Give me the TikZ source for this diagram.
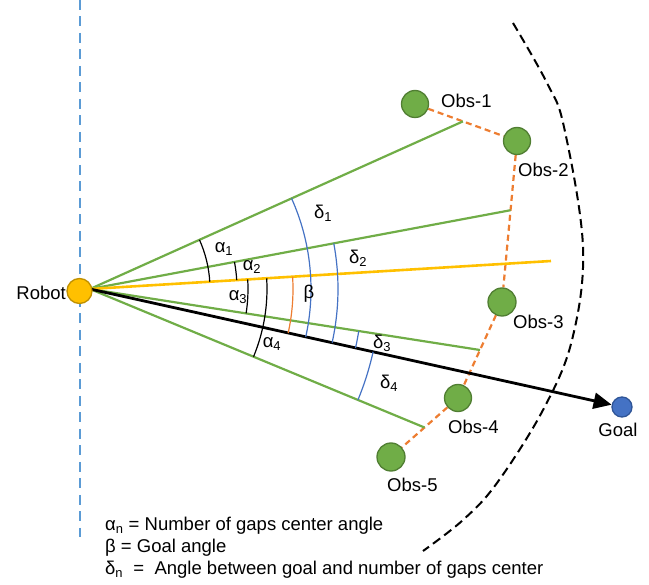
\documentclass[tikz,border=0pt]{standalone}
\usepackage{fontspec}
\setmainfont{Liberation Sans}
\usetikzlibrary{calc,arrows.meta,backgrounds}
\definecolor{cgreen}{HTML}{70AD47}
\definecolor{cgreendark}{HTML}{507E32}
\definecolor{cyellow}{HTML}{FFC000}
\definecolor{cyellowdark}{HTML}{BF9000}
\definecolor{corange}{HTML}{ED7D31}
\definecolor{cblue}{HTML}{4472C4}
\definecolor{cbluedark}{HTML}{2F5597}
\definecolor{clightblue}{HTML}{5B9BD5}
% arc between the rays (O)->#2 and (O)->#3, radius #4 (pt), style #1
\newcommand{\angarc}[4]{%
  \draw[#1] let \p1=($(#2)-(O)$), \p2=($(#3)-(O)$),
    \n1={atan2(\y1,\x1)}, \n2={atan2(\y2,\x2)} in
    ($(O)+(\n1:#4pt)$) arc[start angle=\n1, end angle=\n2, radius=#4pt];}
\begin{document}
\begin{tikzpicture}[x=1pt,y=1pt,
  font=\fontsize{18.5}{21}\selectfont,
  obs/.style={circle, fill=cgreen, draw=cgreendark, line width=1.3pt, minimum size=27pt, inner sep=0pt},
  robotnode/.style={circle, fill=cyellow, draw=cyellowdark, line width=1.3pt, minimum size=25pt, inner sep=0pt},
  goalnode/.style={circle, fill=cblue, draw=cbluedark, line width=1.3pt, minimum size=20pt, inner sep=0pt},
  lbl/.style={inner sep=0pt},
  gapline/.style={cgreen, line width=2.2pt},
  headline/.style={cyellow, line width=2.6pt},
  goalline/.style={black, line width=2.8pt, -{Triangle[length=18pt,width=16pt]}},
  gaplink/.style={corange, line width=2.2pt, dash pattern=on 6pt off 4pt},
  boundary/.style={black, line width=2pt, dash pattern=on 9pt off 5pt},
  axisline/.style={clightblue, line width=2.2pt, dash pattern=on 10pt off 6.5pt},
  blackarc/.style={black, line width=1.2pt},
  bluearc/.style={cblue, line width=1.2pt},
  orangearc/.style={corange, line width=1.2pt}]
\useasboundingbox (0,0) rectangle (649,-585);

% nodes
\node[robotnode] (robot) at (79.5,-291) {};
\coordinate (O) at (90,-289);
\node[obs] (obs1) at (415,-104) {};
\node[obs] (obs2) at (517,-141) {};
\node[obs, minimum size=28pt] (obs3) at (502,-302) {};
\node[obs] (obs4) at (458,-398) {};
\node[obs, minimum size=28pt] (obs5) at (391,-457) {};
\node[goalnode] (goal) at (622,-407) {};

\coordinate (g1) at ($(obs1)!0.47!(obs2)$);
\coordinate (g2) at ($(obs2)!0.43!(obs3)$);
\coordinate (g3) at ($(obs3)!0.5!(obs4)$);
\coordinate (g4) at ($(obs4)!0.5!(obs5)$);
\coordinate (Y) at (551,-261);
\coordinate (vtop) at (80,0);
\coordinate (vbot) at (80,-537);

\begin{scope}[on background layer]
  \draw[axisline] (vtop) -- (vbot);
  \draw[boundary] plot[smooth, tension=0.6] coordinates
    {(513,-23) (547,-83) (564,-127) (583,-247) (572,-340) (543,-410) (497,-483) (463,-520) (423,-551)};
  \draw[gaplink] (obs1) -- (obs2);
  \draw[gaplink] (obs2) -- (obs3);
  \draw[gaplink] (obs3) -- (obs4);
  \draw[gaplink] (obs4) -- (obs5);
  \draw[gapline] (O) -- (g1);
  \draw[gapline] (O) -- (g2);
  \draw[gapline] (O) -- (g3);
  \draw[gapline] (O) -- (g4);
  \draw[headline] (O) -- (Y);
  \draw[goalline] (O) -- (goal);
\end{scope}

% angle arcs
\angarc{blackarc}{g1}{Y}{120}
\angarc{blackarc}{g2}{Y}{147}
\angarc{blackarc}{g3}{Y}{158}
\angarc{blackarc}{g4}{Y}{177}
\angarc{orangearc}{goal}{Y}{203}
\angarc{bluearc}{goal}{g1}{221}
\angarc{bluearc}{goal}{g2}{248}
\angarc{bluearc}{goal}{g3}{272}
\angarc{bluearc}{g4}{goal}{290}

% angle labels
\node[lbl] (la1) at (224,-249) {α\textsubscript{1}};
\node[lbl] (la2) at (252,-267) {α\textsubscript{2}};
\node[lbl] (la3) at (238,-297) {α\textsubscript{3}};
\node[lbl] (la4) at (272,-344) {α\textsubscript{4}};
\node[lbl] (lb)  at (309,-294) {β};
\node[lbl] (ld1) at (323,-213) {δ\textsubscript{1}};
\node[lbl] (ld2) at (358,-258) {δ\textsubscript{2}};
\node[lbl] (ld3) at (382,-343) {δ\textsubscript{3}};
\node[lbl] (ld4) at (389,-383) {δ\textsubscript{4}};

% object labels
\node[lbl, anchor=east] (trobot) at (66,-293) {Robot};
\node[lbl, anchor=west] (tobs1) at (441,-101) {Obs-1};
\node[lbl, anchor=west] (tobs2) at (518,-170) {Obs-2};
\node[lbl, anchor=west] (tobs3) at (513,-322) {Obs-3};
\node[lbl, anchor=west] (tobs4) at (448,-427) {Obs-4};
\node[lbl, anchor=west] (tobs5) at (387,-485) {Obs-5};
\node[lbl] (tgoal) at (618,-430) {Goal};

% legend
\node[lbl, anchor=base west] (leg1) at (105,-531) {α\textsubscript{n} = Number of gaps center angle};
\node[lbl, anchor=base west] (leg2) at (105,-553) {β = Goal angle};
\node[lbl, anchor=base west] (leg3) at (105,-575) {δ\textsubscript{n}\ \ =\ \ Angle between goal and number of gaps center};
\end{tikzpicture}
\end{document}
